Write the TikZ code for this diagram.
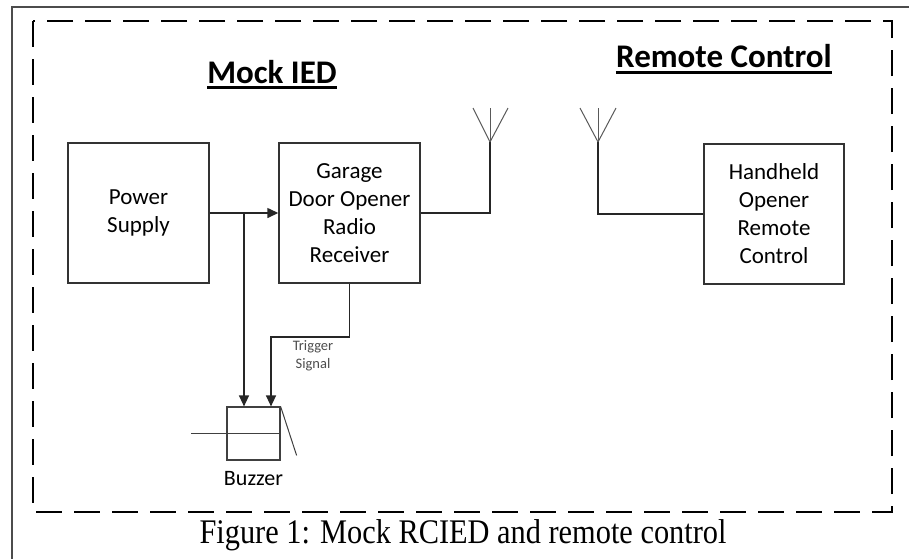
\documentclass[tikz,border=0pt]{standalone}
\usepackage{fontspec}
\setmainfont{Carlito}
\newfontfamily\capfont{Liberation Serif}
\usetikzlibrary{arrows.meta}

\begin{document}
\begin{tikzpicture}[x=1pt,y=-1pt,>={Triangle[length=11pt,width=10pt]},
  every node/.style={color=black},
  blk/.style={draw=black!80,line width=1.4pt,minimum width=141pt,minimum height=140pt,
    align=center,inner sep=0pt,font=\fontsize{23}{28}\selectfont},
  wire/.style={draw=black!85,line width=1.4pt},
  aerial/.style={draw=black!65,line width=1pt},
  title/.style={inner sep=0pt,anchor=base,font=\fontsize{33}{40}\selectfont\bfseries}]
\useasboundingbox (0,0) rectangle (909,558);

% frames
\draw[black!70,line width=1.5pt] (12,562) -- (12,7) -- (913,7);
\draw[line width=1.5pt,dash pattern=on 26pt off 12pt] (33,21) rectangle (892,512);

% titles
\node[title](ied) at (272,83) {Mock IED};
\node[title](rc) at (724,67) {Remote Control};
\draw[line width=2.2pt] ([yshift=-4.5pt]ied.base west) -- ([yshift=-4.5pt]ied.base east);
\draw[line width=2.2pt] ([yshift=-5.5pt]rc.base west) -- ([yshift=-5.5pt]rc.base east);

% blocks
\node[blk](ps) at (138.5,213) {Power\\Supply};
\node[blk](rx) at (349.5,213) {Garage\\Door Opener\\Radio\\Receiver};
\node[blk,minimum width=140pt](hh) at (774,214) {Handheld\\Opener\\Remote\\Control};
\node[draw=black!75,line width=1.2pt,minimum size=53pt,inner sep=0pt](bz) at (253.5,433.5) {};
\node[inner sep=0pt,anchor=base,font=\fontsize{22}{26}\selectfont](bzl) at (253.5,485) {Buzzer};
\node[inner sep=0pt,align=center,text=black!70,font=\fontsize{14.5}{18}\selectfont](trig) at (313,356) {Trigger\\Signal};

% buzzer marks
\draw[black!75,line width=1pt] (bz.east) -- ++(-90,0);
\draw[black!75,line width=1pt] (bz.north east) -- ++(16,49);

% power and trigger
\coordinate(jn) at (244,213);
\coordinate(tg) at (271,337);
\draw[wire,->] (ps) -- (rx);
\draw[wire,->] (jn) -- (jn |- bz.north);
\draw[wire,->] (rx.south) |- (tg) -- (tg |- bz.north);

% aerials
\coordinate(a1) at (490,142);
\coordinate(a2) at (598,142);
\draw[wire] (rx.east) -| (a1);
\draw[wire] (hh.west) -| (a2);
\draw[aerial] (a1) -- ++(0,-34); \draw[aerial] (a1) -- ++(-17,-34); \draw[aerial] (a1) -- ++(18,-34);
\draw[aerial] (a2) -- ++(0,-34); \draw[aerial] (a2) -- ++(-18,-34); \draw[aerial] (a2) -- ++(18,-34);

% caption
\node[inner sep=0pt,anchor=base](cap) at (463,543) {\capfont\fontsize{34.5}{40}\selectfont\scalebox{0.88}[1]{Figure 1: Mock RCIED and remote control}};
\end{tikzpicture}
\end{document}
